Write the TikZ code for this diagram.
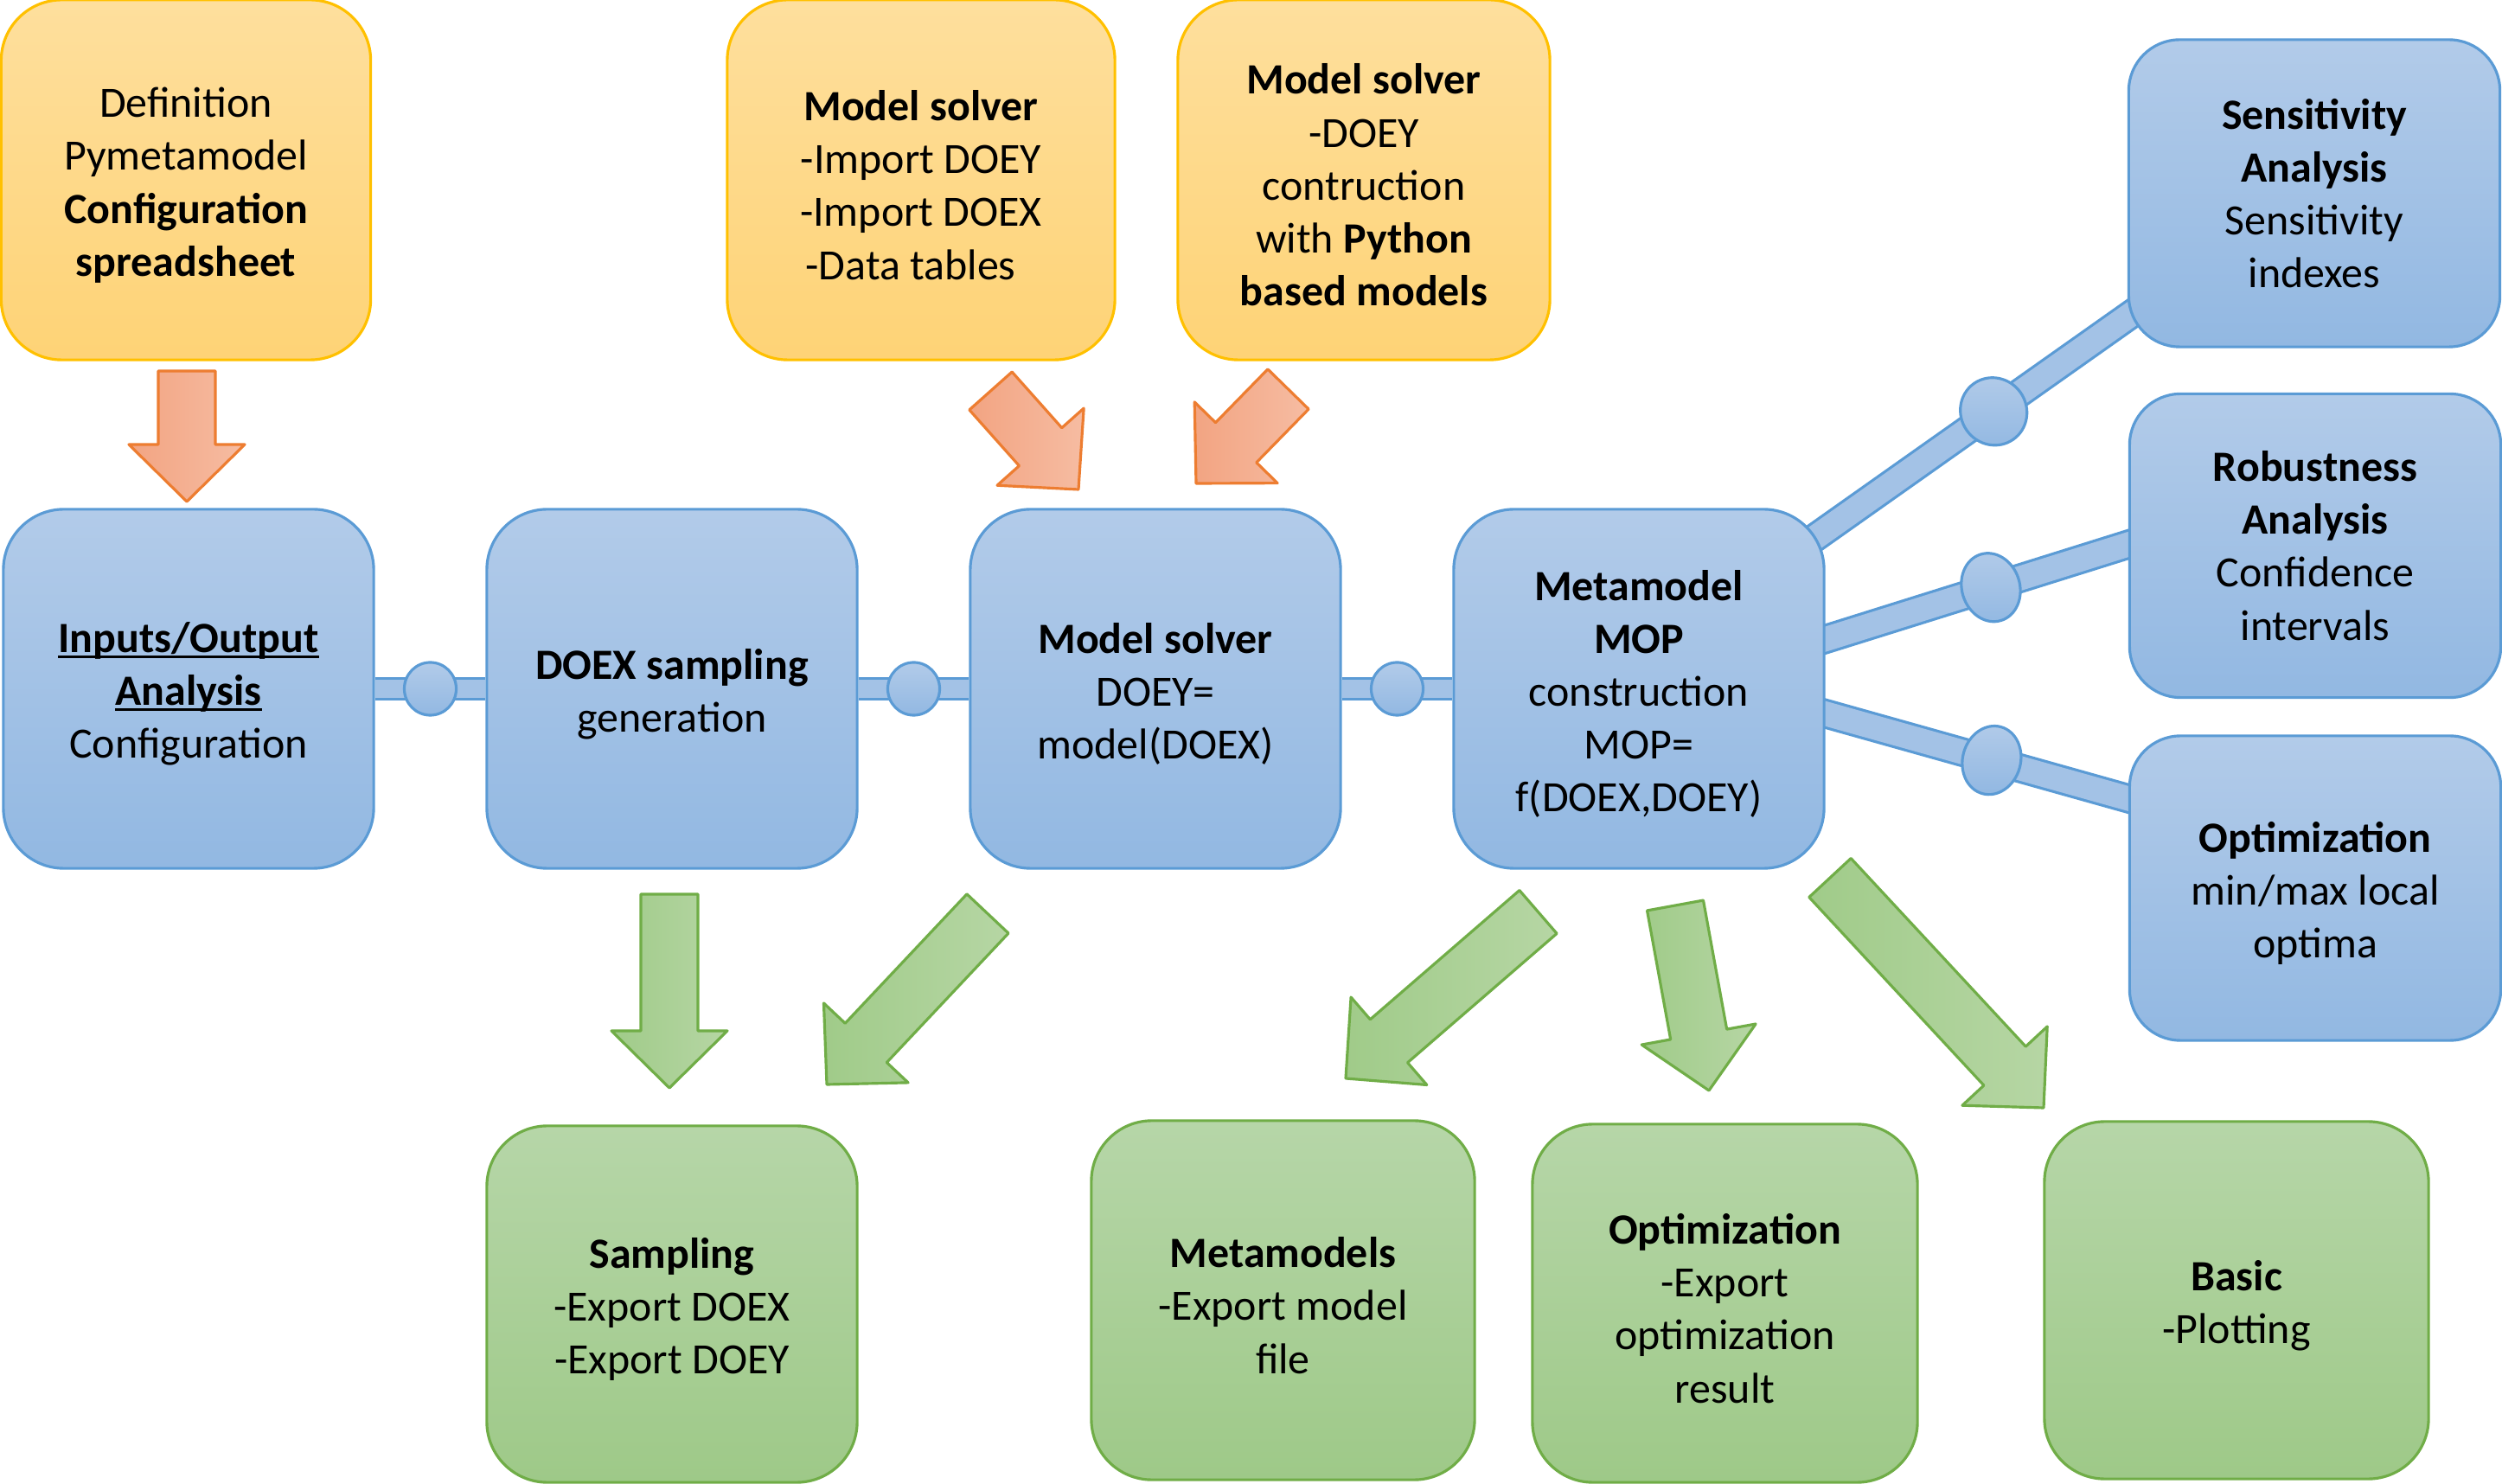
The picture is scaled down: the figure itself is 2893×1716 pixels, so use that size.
\documentclass[tikz,border=0pt]{standalone}
\usepackage{fontspec}
\setmainfont{Carlito}
\usetikzlibrary{calc}
\usetikzlibrary{shapes.geometric}
\pgfdeclarelayer{back}
\pgfsetlayers{back,main}

\definecolor{blueline}{RGB}{91,155,213}
\definecolor{bluetop}{RGB}{178,203,233}
\definecolor{bluebot}{RGB}{146,184,226}
\definecolor{barfill}{RGB}{163,194,230}
\definecolor{orangeline}{RGB}{255,192,0}
\definecolor{orangetop}{RGB}{254,223,157}
\definecolor{orangebot}{RGB}{254,211,118}
\definecolor{greenline}{RGB}{112,173,71}
\definecolor{greentop}{RGB}{182,214,168}
\definecolor{greenbot}{RGB}{158,201,136}
\definecolor{arrowline}{RGB}{237,125,49}
\definecolor{arrowdark}{RGB}{242,164,130}
\definecolor{arrowlight}{RGB}{246,188,162}
\definecolor{garrowdark}{RGB}{160,203,137}
\definecolor{garrowlight}{RGB}{182,214,164}

% block arrow: style, tail, tip
\newcommand{\blockarrow}[3]{%
  \coordinate (ah) at ($(#3)!0.66cm!(#2)$);
  \draw[#1] (#3) -- ($(ah)!0.67cm!90:(#3)$) -- ($(ah)!0.33cm!90:(#3)$)
    -- ($(#2)!0.33cm!90:(#3)$) -- ($(#2)!0.33cm!-90:(#3)$)
    -- ($(ah)!0.33cm!-90:(#3)$) -- ($(ah)!0.67cm!-90:(#3)$) -- cycle;}
\newcommand{\ulbox}[1]{\setbox0\hbox{#1}\rlap{\rule[-0.06cm]{\wd0}{0.03cm}}\box0}
% pushes the text of a box a little down
\newcommand{\lowr}{\rule{0pt}{0.47cm}}

\begin{document}
\begin{tikzpicture}[line cap=round,line join=round,x=0.01cm,y=-0.01cm,
    box/.style={rectangle,rounded corners=0.7cm,line width=0.9pt,inner sep=0pt,align=center,
      font=\fontsize{14.2}{17.4}\selectfont},
    big/.style={minimum width=4.28cm,minimum height=4.15cm},
    small/.style={minimum width=4.29cm,minimum height=3.53cm,rounded corners=0.59cm},
    bluebox/.style={box,draw=blueline,top color=bluetop,bottom color=bluebot},
    orangebox/.style={box,draw=orangeline,top color=orangetop,bottom color=orangebot},
    greenbox/.style={box,draw=greenline,top color=greentop,bottom color=greenbot},
    bar/.style={draw=blueline,line width=0.9pt,double=barfill,line cap=butt},
    joint/.style={ellipse,draw=blueline,line width=0.9pt,top color=bluetop,bottom color=bluebot,inner sep=0pt},
    inarrow/.style={draw=arrowline,line width=0.9pt,left color=arrowdark,right color=arrowlight},
    outarrow/.style={draw=greenline,line width=0.9pt,left color=garrowdark,right color=garrowlight}]
  \useasboundingbox (0,0) rectangle (2893,1716);

  % configuration boxes
  \node[orangebox,big,minimum width=4.27cm,minimum height=4.16cm] (def) at (215,208) {\lowr Definition\\Pymetamodel\\\textbf{Configuration}\\\textbf{spreadsheet}};
  \node[orangebox,big,minimum width=4.48cm,minimum height=4.16cm] (imp) at (1065,208) {\lowr\textbf{Model solver}\\-Import DOEY\\-Import DOEX\\-Data tables\hspace*{0.24cm}};
  \node[orangebox,big,minimum width=4.30cm,minimum height=4.16cm] (pyth) at (1577,208) {\lowr\textbf{Model solver}\\-DOEY\\contruction\\with \textbf{Python}\\\textbf{based models}};

  % main chain
  \node[bluebox,big] (inputs) at (218,796.5) {\lowr\ulbox{\textbf{Inputs/Output}}\\\ulbox{\textbf{Analysis}}\\Configuration};
  \node[bluebox,big] (doex) at (777,796.5) {\lowr\textbf{DOEX sampling}\\generation};
  \node[bluebox,big] (solver) at (1336,796.5) {\lowr\textbf{Model solver}\\DOEY=\\model(DOEX)};
  \node[bluebox,big] (meta) at (1895,796.5) {\lowr\textbf{Metamodel}\\\textbf{MOP}\\construction\\MOP=\\f(DOEX,DOEY)};

  % analyses
  \node[bluebox,small,minimum height=3.55cm] (sens) at (2676,223.5) {\textbf{Sensitivity}\\\textbf{Analysis}\\Sensitivity\\indexes};
  \node[bluebox,small,minimum height=3.51cm] (robust) at (2677,631) {\textbf{Robustness}\\\textbf{Analysis}\\Confidence\\intervals};
  \node[bluebox,small,minimum height=3.52cm] (optim) at (2677,1027) {\lowr\textbf{Optimization}\\min/max local\\optima};

  % exports
  \node[greenbox,big,minimum height=4.12cm] (sampling) at (777,1508) {\lowr\textbf{Sampling}\\-Export DOEX\\-Export DOEY};
  \node[greenbox,big,minimum width=4.43cm] (metamodels) at (1483.5,1503.5) {\lowr\textbf{Metamodels}\\-Export model\\file};
  \node[greenbox,big,minimum width=4.45cm,minimum height=4.14cm] (export) at (1994.5,1507) {\lowr\textbf{Optimization}\\-Export\\optimization\\result};
  \node[greenbox,big,minimum width=4.44cm,minimum height=4.13cm] (basic) at (2586,1503.5) {\lowr\textbf{Basic}\\-Plotting};

  % links
  \coordinate (m1) at (2060,649);
  \coordinate (s1) at (2520,324);
  \coordinate (m2) at (2060,755);
  \coordinate (r2) at (2520,611);
  \coordinate (m3) at (2060,811);
  \coordinate (o3) at (2520,940);
  \begin{pgfonlayer}{back}
    \draw[bar,double distance=0.2cm] (inputs) -- (doex);
    \draw[bar,double distance=0.2cm] (doex) -- (solver);
    \draw[bar,double distance=0.2cm] (solver) -- (meta);
    \draw[bar,double distance=0.28cm] (m1) -- (s1);
    \draw[bar,double distance=0.28cm] (m2) -- (r2);
    \draw[bar,double distance=0.28cm] (m3) -- (o3);
  \end{pgfonlayer}
  \node[joint,minimum width=0.6cm,minimum height=0.61cm] (j1) at ($(inputs.east)!0.5!(doex.west)$) {};
  \node[joint,minimum width=0.6cm,minimum height=0.61cm] (j2) at ($(doex.east)!0.5!(solver.west)$) {};
  \node[joint,minimum width=0.6cm,minimum height=0.61cm] (j3) at ($(solver.east)!0.5!(meta.west)$) {};
  \path (m1) -- (s1) node[joint,sloped,pos=0.533,minimum width=0.76cm,minimum height=0.79cm] (e1) {};
  \path (m2) -- (r2) node[joint,sloped,pos=0.526,minimum width=0.67cm,minimum height=0.8cm] (e2) {};
  \path (m3) -- (o3) node[joint,sloped,pos=0.528,minimum width=0.67cm,minimum height=0.8cm] (e3) {};

  % arrows in
  \coordinate (a1s) at (216,429);
  \coordinate (a1e) at (216,580);
  \coordinate (a2s) at (1145.5,452);
  \coordinate (a2e) at (1247,566);
  \coordinate (a3s) at (1489.5,450);
  \coordinate (a3e) at (1383,559);
  \blockarrow{inarrow}{a1s}{a1e}
  \blockarrow{inarrow}{a2s}{a2e}
  \blockarrow{inarrow}{a3s}{a3e}

  % arrows out
  \coordinate (g1s) at (774,1034);
  \coordinate (g1e) at (774,1258);
  \coordinate (g2s) at (1142,1056.5);
  \coordinate (g2e) at (956,1254);
  \coordinate (g3s) at (1778.5,1054.5);
  \coordinate (g3e) at (1556,1247);
  \coordinate (g4s) at (1937,1047);
  \coordinate (g4e) at (1976,1261);
  \coordinate (g5s) at (2116,1015);
  \coordinate (g5e) at (2363,1281);
  \blockarrow{outarrow}{g1s}{g1e}
  \blockarrow{outarrow}{g2s}{g2e}
  \blockarrow{outarrow}{g3s}{g3e}
  \blockarrow{outarrow}{g4s}{g4e}
  \blockarrow{outarrow}{g5s}{g5e}
\end{tikzpicture}
\end{document}
